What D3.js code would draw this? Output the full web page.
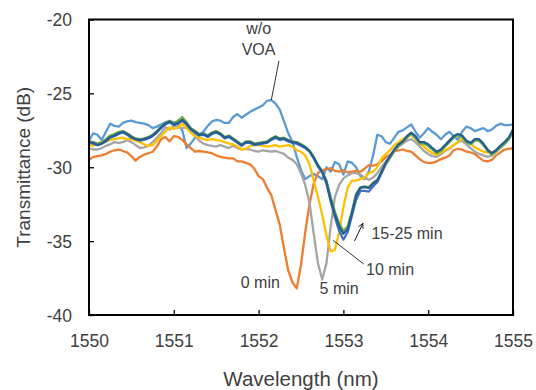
<!DOCTYPE html>
<html>
<head>
<meta charset="utf-8">
<script src="https://cdn.jsdelivr.net/npm/d3@7"></script>
<style>
  body { margin: 0; background: #fff; }
  svg { display: block; font-family: "Liberation Sans", Arial, sans-serif; }
</style>
</head>
<body>
<script>
// Wavelength samples (nm).
const wavelength = [
  1550.00, 1550.05, 1550.10, 1550.15, 1550.20, 1550.25, 1550.30, 1550.35, 1550.40, 1550.45,
  1550.50, 1550.55, 1550.60, 1550.65, 1550.70, 1550.75, 1550.80, 1550.85, 1550.90, 1550.95,
  1551.00, 1551.05, 1551.10, 1551.15, 1551.20, 1551.25, 1551.30, 1551.35, 1551.40, 1551.45,
  1551.50, 1551.55, 1551.60, 1551.65, 1551.70, 1551.75, 1551.80, 1551.85, 1551.90, 1551.95,
  1552.00, 1552.05, 1552.10, 1552.15, 1552.20, 1552.25, 1552.30, 1552.35, 1552.40, 1552.45,
  1552.50, 1552.55, 1552.60, 1552.65, 1552.70, 1552.75, 1552.80, 1552.85, 1552.90, 1552.95,
  1553.00, 1553.05, 1553.10, 1553.15, 1553.20, 1553.25, 1553.30, 1553.35, 1553.40, 1553.45,
  1553.50, 1553.55, 1553.60, 1553.65, 1553.70, 1553.75, 1553.80, 1553.85, 1553.90, 1553.95,
  1554.00, 1554.05, 1554.10, 1554.15, 1554.20, 1554.25, 1554.30, 1554.35, 1554.40, 1554.45,
  1554.50, 1554.55, 1554.60, 1554.65, 1554.70, 1554.75, 1554.80, 1554.85, 1554.90, 1554.95,
  1555.00
];

// Transmittance (dB) for each measurement.
const woVOA = [
  -28.2, -27.7, -27.8, -28.15, -27.6, -27.05, -27.2, -27.25, -27.0, -26.9,
  -26.85, -26.95, -27.0, -27.05, -27.15, -27.35, -27.25, -27.1, -26.95, -26.9,
  -26.95, -27.1, -27.5, -28.7, -28.4, -28.0, -27.8, -27.6, -27.2, -26.9,
  -26.8, -26.85, -27.0, -27.0, -26.6, -26.4, -26.65, -26.45, -26.25, -26.1,
  -25.95, -25.8, -25.5, -25.45, -25.7, -26.1, -26.9, -27.7, -28.3, -29.3,
  -30.2, -30.8, -30.6, -30.45, -30.6, -30.8, -30.0, -30.3, -29.65, -29.8,
  -30.5, -29.6, -29.7, -30.0, -30.6, -30.8, -30.3, -29.2, -27.8, -27.9,
  -28.3, -28.4, -28.0, -27.6, -27.5, -27.3, -27.1, -27.6, -28.0, -27.7,
  -27.35, -27.6, -27.8, -28.1, -27.8, -27.6, -27.9, -28.15, -27.6, -27.25,
  -27.35, -27.55, -27.45, -27.35, -27.55, -27.45, -27.2, -27.05, -27.15, -27.15,
  -27.1
];
const min0 = [
  -29.5, -29.3, -29.25, -29.2, -29.1, -28.95, -28.85, -28.8, -28.9, -29.0,
  -29.25, -29.55, -29.3, -29.15, -29.05, -28.95, -28.6, -28.1, -27.95, -28.25,
  -27.9, -27.95, -28.15, -28.45, -28.7, -28.95, -28.9, -28.95, -29.0, -29.05,
  -29.2, -29.3, -29.35, -29.4, -29.4, -29.6, -29.6, -29.7, -29.8, -30.1,
  -30.6, -30.8, -31.4, -31.9, -32.9, -33.9, -35.5, -37.0, -37.8, -38.2,
  -36.6, -34.4, -32.5, -31.1, -30.4, -30.2, -30.15, -30.05, -30.25, -30.3,
  -30.2, -30.35, -30.3, -30.25, -30.3, -30.1, -29.85, -29.9, -29.8, -29.6,
  -29.3, -29.15, -28.9, -28.85, -28.8, -28.9, -28.95, -29.2, -29.45, -29.65,
  -29.7, -29.7, -29.6, -29.45, -29.35, -29.2, -28.85, -28.75, -28.8, -28.95,
  -29.0, -29.1, -29.35, -29.55, -29.6, -29.5, -29.2, -29.0, -28.8, -28.75,
  -28.7
];
const min5 = [
  -28.7, -28.8, -28.8, -28.7, -28.55, -28.45, -28.3, -28.35, -28.3, -28.15,
  -28.3, -28.5, -28.7, -28.65, -28.55, -28.3, -28.0, -27.7, -27.3, -27.45,
  -27.2, -27.3, -27.35, -27.3, -27.5, -27.85, -28.2, -28.4, -28.5, -28.55,
  -28.6, -28.5, -28.6, -28.7, -28.55, -28.7, -28.8, -28.75, -28.8, -28.9,
  -28.95, -28.85, -28.9, -28.95, -28.9, -29.0, -29.1, -29.35, -29.5, -29.8,
  -30.4, -31.2, -32.4, -34.5, -36.5, -37.6, -36.5, -34.0, -32.0, -31.2,
  -30.75, -30.55, -30.4, -30.4, -30.5, -30.7, -30.85, -30.7, -30.4, -30.0,
  -29.6, -29.2, -28.9, -28.6, -28.4, -28.2, -28.1, -28.3, -28.6, -28.9,
  -29.1, -29.25, -29.3, -29.1, -28.9, -28.75, -28.5, -28.3, -28.2, -28.45,
  -28.7, -28.95, -29.1, -29.2, -29.3, -29.2, -28.95, -28.7, -28.45, -28.1,
  -27.7
];
const min10 = [
  -28.5, -28.55, -28.4, -28.35, -28.25, -28.15, -28.1, -28.05, -28.0, -28.1,
  -28.1, -28.2, -28.3, -28.45, -28.55, -28.5, -28.2, -27.9, -27.6, -27.3,
  -27.4, -27.3, -27.05, -27.35, -27.65, -27.9, -28.0, -28.1, -28.15, -28.1,
  -28.15, -28.2, -28.3, -28.4, -28.45, -28.6, -28.8, -28.75, -28.55, -28.5,
  -28.5, -28.55, -28.6, -28.55, -28.5, -28.6, -28.55, -28.5, -28.6, -28.85,
  -28.95, -29.2, -29.8, -30.9, -32.0, -33.2, -34.6, -35.7, -35.6, -34.4,
  -32.7, -31.4, -30.9, -30.9, -30.8, -30.7, -30.4, -30.3, -30.0, -29.4,
  -29.1, -28.85, -28.5, -28.3, -28.1, -27.9, -27.8, -28.1, -28.4, -28.6,
  -28.85, -29.05, -29.15, -29.0, -28.85, -28.7, -28.5, -28.3, -28.05, -28.2,
  -28.4, -28.65, -28.8, -28.95, -29.0, -29.0, -28.85, -28.6, -28.35, -28.0,
  -27.6
];
const min15 = [
  -28.35, -28.4, -28.5, -28.4, -28.25, -28.0, -27.9, -27.75, -27.65, -27.8,
  -28.0, -28.1, -28.2, -28.15, -28.05, -27.9, -27.65, -27.35, -27.1, -26.95,
  -27.15, -27.05, -26.85, -27.1, -27.45, -27.65, -27.85, -27.8, -27.95, -27.75,
  -27.65, -27.8, -28.05, -27.95, -28.15, -28.35, -28.55, -28.35, -28.35, -28.5,
  -28.45, -28.4, -28.35, -28.15, -28.0, -28.15, -28.1, -28.25, -28.35, -28.4,
  -28.55, -28.7, -28.95, -29.4, -29.95, -30.35, -31.1, -32.3, -33.4, -34.3,
  -34.9, -34.4, -33.3, -32.2, -31.6, -31.6, -31.65, -31.3, -31.0, -30.4,
  -29.8, -29.35, -28.9, -28.55, -28.3, -27.95, -27.7, -27.95, -28.35, -28.35,
  -28.5, -28.75, -29.0, -28.85, -28.55, -28.25, -27.95, -27.8, -27.9, -28.25,
  -28.4, -28.15, -28.15, -28.45, -28.85, -29.1, -28.9, -28.6, -28.35, -28.05,
  -27.5
];
const min20 = [
  -28.25, -28.3, -28.4, -28.3, -28.1, -27.85, -27.75, -27.6, -27.55, -27.7,
  -27.9, -28.05, -28.1, -28.05, -27.95, -27.8, -27.55, -27.25, -27.0, -26.85,
  -27.0, -26.85, -26.6, -26.95, -27.35, -27.55, -27.75, -27.7, -27.85, -27.65,
  -27.55, -27.7, -27.95, -27.85, -28.05, -28.25, -28.45, -28.25, -28.25, -28.4,
  -28.35, -28.3, -28.25, -28.05, -27.9, -28.05, -28.0, -28.15, -28.25, -28.3,
  -28.45, -28.6, -28.85, -29.3, -29.85, -30.25, -30.9, -32.0, -33.0, -33.8,
  -34.3, -34.0, -33.0, -31.8, -31.35, -31.3, -31.35, -31.05, -30.85, -30.3,
  -29.75, -29.35, -28.9, -28.55, -28.3, -28.0, -27.75, -28.0, -28.4, -28.4,
  -28.55, -28.8, -29.05, -28.9, -28.6, -28.3, -28.0, -27.85, -27.95, -28.3,
  -28.45, -28.2, -28.2, -28.5, -28.9, -29.15, -28.95, -28.65, -28.4, -28.1,
  -27.5
];
const min25 = [
  -28.3, -28.35, -28.5, -28.4, -28.2, -27.95, -27.85, -27.7, -27.6, -27.75,
  -27.95, -28.1, -28.15, -28.1, -28.0, -27.85, -27.6, -27.3, -27.05, -26.9,
  -27.1, -27.0, -26.8, -27.05, -27.4, -27.6, -27.8, -27.75, -27.9, -27.7,
  -27.6, -27.75, -28.0, -27.9, -28.1, -28.3, -28.5, -28.3, -28.3, -28.45,
  -28.4, -28.35, -28.3, -28.1, -27.95, -28.1, -28.05, -28.2, -28.3, -28.35,
  -28.5, -28.65, -28.9, -29.35, -29.9, -30.3, -31.0, -32.2, -33.2, -34.0,
  -34.5, -34.2, -33.1, -31.9, -31.4, -31.35, -31.4, -31.1, -30.9, -30.3,
  -29.7, -29.25, -28.8, -28.45, -28.25, -27.9, -27.65, -27.9, -28.3, -28.3,
  -28.45, -28.7, -28.95, -28.8, -28.5, -28.2, -27.9, -27.75, -27.85, -28.2,
  -28.35, -28.1, -28.1, -28.4, -28.8, -29.05, -28.85, -28.55, -28.3, -28.0,
  -27.45
];

const seriesNames = ['w/o VOA', '0 min', '5 min', '10 min', '15 min', '20 min', '25 min'];
const seriesValues = [woVOA, min0, min5, min10, min15, min20, min25];
const seriesColors = ['#5b9bd5', '#ed7d31', '#a5a5a5', '#ffc000', '#4472c4', '#70ad47', '#255e91'];

const xTicks = [1550, 1551, 1552, 1553, 1554, 1555];
const yTicks = [-40, -35, -30, -25, -20];

// Layout.
const size = {width: 536, height: 390};
const plot = {left: 89, right: 513, top: 19.5, bottom: 315};
const textColor = '#404040';

const svg = d3.select('body')
  .append('svg')
  .attr('width', size.width)
  .attr('height', size.height);

const x = d3.scaleLinear().domain([1550, 1555]).range([plot.left, plot.right]);
const y = d3.scaleLinear().domain([-40, -20]).range([plot.bottom, plot.top]);

// Curves.
const line = d3.line()
  .x((d) => x(d[0]))
  .y((d) => y(d[1]));

svg.append('g')
  .attr('class', 'curves')
  .selectAll('path')
  .data(seriesValues)
  .enter()
  .append('path')
  .attr('d', (vals) => line(vals.map((v, i) => [wavelength[i], v])))
  .attr('fill', 'none')
  .attr('stroke', (d, i) => seriesColors[i])
  .attr('stroke-width', 2.3)
  .attr('stroke-linejoin', 'round');

// Axes, ticks pointing inward; plain hyphen for negatives.
const xAxis = d3.axisBottom(x)
  .tickValues(xTicks)
  .tickSize(-5)
  .tickPadding(20)
  .tickFormat((d) => String(d));

const yAxis = d3.axisLeft(y)
  .tickValues(yTicks)
  .tickSize(-5)
  .tickPadding(17)
  .tickFormat((d) => String(d));

const gx = svg.append('g')
  .attr('transform', 'translate(0,' + plot.bottom + ')')
  .call(xAxis);
const gy = svg.append('g')
  .attr('transform', 'translate(' + plot.left + ',0)')
  .call(yAxis);

[gx, gy].forEach((g) => {
  g.select('.domain').remove();
  g.selectAll('.tick line').attr('stroke', '#000').attr('stroke-width', 1.3);
  g.selectAll('.tick text')
    .attr('fill', textColor)
    .style('font-size', '17.5px')
    .style('font-family', '"Liberation Sans", Arial, sans-serif');
});
gy.selectAll('.tick text').attr('dy', '0.36em');

// Frame.
svg.append('rect')
  .attr('x', plot.left)
  .attr('y', plot.top)
  .attr('width', plot.right - plot.left)
  .attr('height', plot.bottom - plot.top)
  .attr('fill', 'none')
  .attr('stroke', '#000')
  .attr('stroke-width', 2);

// Axis titles.
svg.append('text')
  .attr('x', (plot.left + plot.right) / 2)
  .attr('y', 386)
  .attr('text-anchor', 'middle')
  .attr('fill', textColor)
  .style('font-size', '20.5px')
  .text('Wavelength (nm)');

svg.append('text')
  .attr('transform', 'translate(30,' + ((plot.top + plot.bottom) / 2) + ') rotate(-90)')
  .attr('text-anchor', 'middle')
  .attr('fill', textColor)
  .style('font-size', '19px')
  .text('Transmittance (dB)');

// Annotations.
const notes = [
  {text: 'w/o', lx: 1552.0, ly: -21.0},
  {text: 'VOA', lx: 1552.0, ly: -22.4},
  {text: '0 min', lx: 1552.02, ly: -38.15},
  {text: '5 min', lx: 1552.95, ly: -38.6},
  {text: '10 min', lx: 1553.55, ly: -37.3},
  {text: '15-25 min', lx: 1553.75, ly: -34.85}
];
svg.append('g')
  .selectAll('text')
  .data(notes)
  .enter()
  .append('text')
  .attr('x', (d) => x(d.lx))
  .attr('y', (d) => y(d.ly))
  .attr('text-anchor', 'middle')
  .attr('fill', textColor)
  .style('font-size', '16px')
  .text((d) => d.text);

// Leader lines.
const leaders = [
  {x1: 1552.24, y1: -22.8, x2: 1552.15, y2: -25.45},
  {x1: 1553.24, y1: -36.55, x2: 1552.88, y2: -34.95}
];
svg.append('g')
  .selectAll('line')
  .data(leaders)
  .enter()
  .append('line')
  .attr('x1', (d) => x(d.x1))
  .attr('y1', (d) => y(d.y1))
  .attr('x2', (d) => x(d.x2))
  .attr('y2', (d) => y(d.y2))
  .attr('stroke', '#000')
  .attr('stroke-width', 0.8);

// Open arrow for 15-25 min.
const arrowFrom = [1553.13, -35.0];
const arrowTo = [1553.23, -33.8];
svg.append('defs')
  .append('marker')
  .attr('id', 'open-arrow')
  .attr('viewBox', '0 0 10 10')
  .attr('refX', 9)
  .attr('refY', 5)
  .attr('markerWidth', 7)
  .attr('markerHeight', 7)
  .attr('orient', 'auto')
  .append('path')
  .attr('d', 'M1,1 L9,5 L1,9')
  .attr('fill', 'none')
  .attr('stroke', '#000')
  .attr('stroke-width', 1.2);

svg.append('line')
  .attr('x1', x(arrowFrom[0]))
  .attr('y1', y(arrowFrom[1]))
  .attr('x2', x(arrowTo[0]))
  .attr('y2', y(arrowTo[1]))
  .attr('stroke', '#000')
  .attr('stroke-width', 0.9)
  .attr('marker-end', 'url(#open-arrow)');
</script>
</body>
</html>
